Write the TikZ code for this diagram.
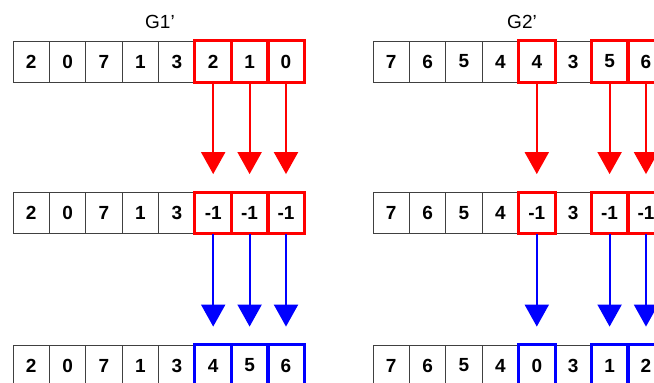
\documentclass[tikz,border=0pt]{standalone}
\usepackage{fontspec}
\setmainfont{Liberation Sans}
\usetikzlibrary{arrows.meta}

\begin{document}
\begin{tikzpicture}[x=1pt,y=-1pt]
\tikzstyle{cell}=[rectangle,draw=black!75,line width=0.8pt,inner sep=0pt,minimum width=36.4pt,minimum height=41pt,font=\fontsize{19}{19}\selectfont\bfseries]
\tikzstyle{hotred}=[draw=red,line width=3pt]
\tikzstyle{hotblue}=[draw=blue,line width=3pt]
\tikzstyle{down}=[line width=2pt,-{Triangle[length=22pt,width=24pt]},shorten >=18pt]
\useasboundingbox (0,0) rectangle (654,383);

% Titles
\node (T1) at (160,22) {\fontsize{19}{19}\selectfont G1’};
\node (T2) at (522,22) {\fontsize{19}{19}\selectfont G2’};

% Rows of G1'
\foreach \v [count=\i] in {2,0,7,1,3,2,1,0}
  \node (G1A\i) [cell] at ({13+36.4*(\i-0.5)},61.5) {\v};
\foreach \v [count=\i] in {2,0,7,1,3,-1,-1,-1}
  \node (G1B\i) [cell] at ({13+36.4*(\i-0.5)},213) {\v};
\foreach \v [count=\i] in {2,0,7,1,3,4,5,6}
  \node (G1C\i) [cell] at ({13+36.4*(\i-0.5)},365.5) {\v};

% Rows of G2'
\foreach \v [count=\i] in {7,6,5,4,4,3,5,6}
  \node (G2A\i) [cell] at ({373+36.4*(\i-0.5)},61.5) {\v};
\foreach \v [count=\i] in {7,6,5,4,-1,3,-1,-1}
  \node (G2B\i) [cell] at ({373+36.4*(\i-0.5)},213) {\v};
\foreach \v [count=\i] in {7,6,5,4,0,3,1,2}
  \node (G2C\i) [cell] at ({373+36.4*(\i-0.5)},365.5) {\v};

% Marked cells
\foreach \i in {6,7,8} {
  \draw[hotred] (G1A\i.north west) rectangle (G1A\i.south east);
  \draw[hotred] (G1B\i.north west) rectangle (G1B\i.south east);
  \draw[hotblue] (G1C\i.north west) rectangle (G1C\i.south east);
  \draw[down,red] (G1A\i.south) -- (G1B\i.north);
  \draw[down,blue] (G1B\i.south) -- (G1C\i.north);
}
\foreach \i in {5,7,8} {
  \draw[hotred] (G2A\i.north west) rectangle (G2A\i.south east);
  \draw[hotred] (G2B\i.north west) rectangle (G2B\i.south east);
  \draw[hotblue] (G2C\i.north west) rectangle (G2C\i.south east);
  \draw[down,red] (G2A\i.south) -- (G2B\i.north);
  \draw[down,blue] (G2B\i.south) -- (G2C\i.north);
}

\end{tikzpicture}
\end{document}
